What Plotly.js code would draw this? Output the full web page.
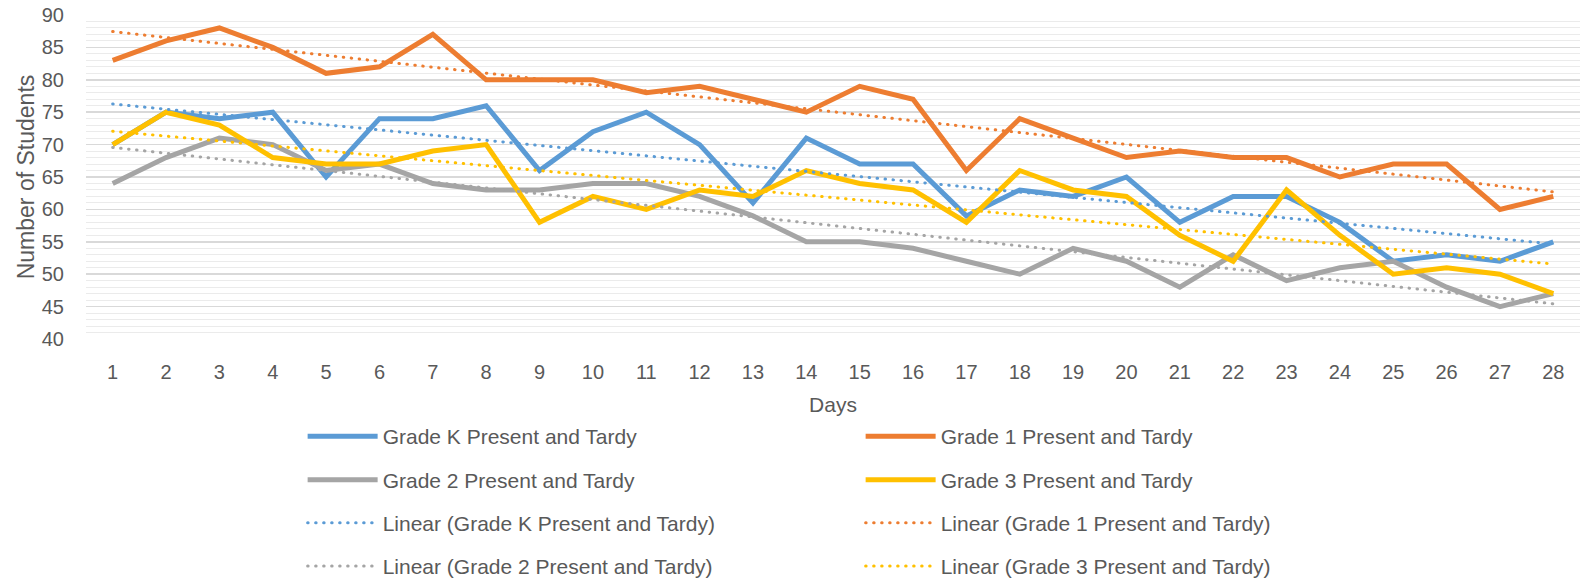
<!DOCTYPE html>
<html>
<head>
<meta charset="utf-8">
<script src="https://cdn.plot.ly/plotly-3.0.1.min.js"></script>
<style>
html,body{margin:0;padding:0;background:#fff;}
#chart{width:1581px;height:581px;}
path.js-line[style*="dasharray"]{stroke-linecap:round;}
</style>
</head>
<body>
<div id="chart"></div>
<script>
const days = [1,2,3,4,5,6,7,8,9,10,11,12,13,14,15,16,17,18,19,20,21,22,23,24,25,26,27,28];
const gradeK = [70,75,74,75,65,74,74,76,66,72,75,70,61,71,67,67,59,63,62,65,58,62,62,58,52,53,52,55];
const grade1 = [83,86,88,85,81,82,87,80,80,80,78,79,77,75,79,77,66,74,71,68,69,68,68,65,67,67,60,62];
const grade2 = [64,68,71,70,66,67,64,63,63,64,64,62,59,55,55,54,52,50,54,52,48,53,49,51,52,48,45,47];
const grade3 = [70,75,73,68,67,67,69,70,58,62,60,63,62,66,64,63,58,66,63,62,56,52,63,56,50,51,50,47];
const seriesNames = ["Grade K Present and Tardy","Grade 1 Present and Tardy","Grade 2 Present and Tardy","Grade 3 Present and Tardy"];
const colors = ["#5B9BD5","#ED7D31","#A5A5A5","#FFC000"];
const yTicks = [40,45,50,55,60,65,70,75,80,85,90];

// least-squares linear trend (as Excel's "Linear" trendline)
function linearFit(xs, ys){
  const n = xs.length;
  let sx=0, sy=0, sxy=0, sxx=0;
  for(let i=0;i<n;i++){sx+=xs[i];sy+=ys[i];sxy+=xs[i]*ys[i];sxx+=xs[i]*xs[i];}
  const m = (n*sxy - sx*sy)/(n*sxx - sx*sx);
  const b = (sy - m*sx)/n;
  return xs.map(x => m*x + b);
}

const data = [gradeK, grade1, grade2, grade3];
const legendIds = ["legend","legend","legend2","legend2"];
const trendLegendIds = ["legend3","legend3","legend4","legend4"];
const traces = [];
data.forEach((ys,i)=>{
  traces.push({x:days, y:ys, type:"scatter", mode:"lines", name:seriesNames[i],
    line:{color:colors[i], width:5}, legend:legendIds[i]});
});
data.forEach((ys,i)=>{
  traces.push({x:days, y:linearFit(days, ys), type:"scatter", mode:"lines",
    name:"Linear (" + seriesNames[i] + ")",
    line:{color:colors[i], width:3, dash:"0.5px,7.5px"}, legend:trendLegendIds[i]});
});

const font = {family:"Liberation Sans, Arial, sans-serif", color:"#595959", size:20};
const legBase = {orientation:"h", x:0.145, xanchor:"left", yanchor:"middle", yref:"container",
  entrywidth:473, itemwidth:70, font:{family:font.family, color:"#595959", size:21},
  bgcolor:"rgba(0,0,0,0)", borderwidth:0, itemclick:false};

const layout = {
  width:1581, height:581,
  margin:{l:86, r:1, t:15, b:242},
  paper_bgcolor:"#fff", plot_bgcolor:"#fff",
  font:font,
  showlegend:true,
  xaxis:{range:[0.5,28.5], tickvals:days, ticktext:days.map(String), showgrid:false,
    zeroline:false, showline:false, ticks:"outside", ticklen:15, tickcolor:"rgba(0,0,0,0)",
    tickfont:{size:20, color:"#595959"},
    title:{text:"Days", font:{size:21, color:"#595959"}, standoff:27}, automargin:false},
  yaxis:{range:[40,90], tickvals:yTicks, showgrid:true, gridcolor:"#d9d9d9", gridwidth:1.5,
    zeroline:false, showline:false, ticks:"outside", ticklen:17, tickcolor:"rgba(0,0,0,0)",
    tickfont:{size:20, color:"#595959"},
    minor:{dtick:1, showgrid:true, gridcolor:"#ebebeb", gridwidth:1, ticks:""},
    title:{text:"Number of Students", font:{size:23, color:"#595959"}, standoff:0}, automargin:false},
  legend:Object.assign({}, legBase, {y:0.2487}),
  legend2:Object.assign({}, legBase, {y:0.1738}),
  legend3:Object.assign({}, legBase, {y:0.0998}),
  legend4:Object.assign({}, legBase, {y:0.0250})
};

Plotly.newPlot("chart", traces, layout, {displayModeBar:false, staticPlot:true});
</script>
</body>
</html>
